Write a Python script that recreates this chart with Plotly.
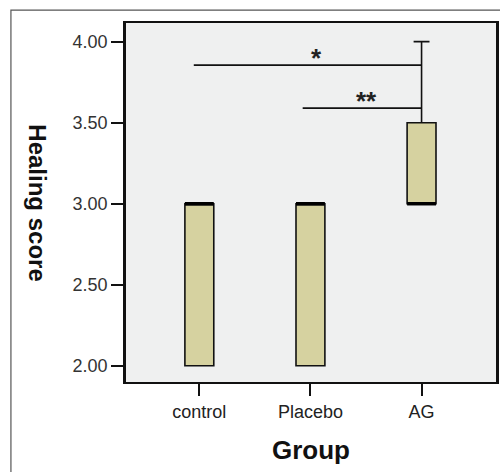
import plotly.graph_objects as go

groups = ["control", "Placebo", "AG"]
q1 = [2.0, 2.0, 3.0]
median = [3.0, 3.0, 3.0]
q3 = [3.0, 3.0, 3.5]
lower = [2.0, 2.0, 3.0]
upper = [3.0, 3.0, 4.0]
yticks = [2.0, 2.5, 3.0, 3.5, 4.0]

sig_lines = [
    {"x0": -0.05, "x1": 2, "y": 3.855, "label": "*", "lx": 1.05, "ly": 3.90},
    {"x0": 0.93, "x1": 2, "y": 3.59, "label": "**", "lx": 1.5, "ly": 3.635},
]

box_w = 0.26
pos = list(range(len(groups)))
FONT = "Liberation Sans"

fig = go.Figure()
for i, g in enumerate(groups):
    fig.add_trace(go.Box(
        x=[pos[i]], q1=[q1[i]], median=[median[i]], q3=[q3[i]],
        lowerfence=[lower[i]], upperfence=[upper[i]],
        width=box_w, whiskerwidth=0.55,
        fillcolor="#d6d2a0", line=dict(color="#111111", width=1.6),
        boxpoints=False, showlegend=False, hoverinfo="skip",
    ))
    fig.add_trace(go.Scatter(
        x=[pos[i] - box_w / 2, pos[i] + box_w / 2], y=[median[i], median[i]],
        mode="lines", line=dict(color="#000000", width=3.5),
        showlegend=False, hoverinfo="skip",
    ))

for s in sig_lines:
    fig.add_trace(go.Scatter(
        x=[s["x0"], s["x1"]], y=[s["y"], s["y"]], mode="lines",
        line=dict(color="#111111", width=1.8), showlegend=False, hoverinfo="skip",
    ))
    fig.add_annotation(x=s["lx"], y=s["ly"], text="<b>" + s["label"] + "</b>",
                       showarrow=False, yanchor="middle",
                       font=dict(size=26, color="#222222", family=FONT))

fig.add_annotation(xref="paper", yref="paper", x=-0.282, y=0.5,
                   text="<b>Healing score</b>", textangle=90, showarrow=False,
                   font=dict(size=24, color="#111111", family=FONT))
fig.add_annotation(xref="paper", yref="paper", x=0.4987, y=-0.19,
                   text="<b>Group</b>", showarrow=False, yanchor="middle",
                   font=dict(size=26, color="#111111", family=FONT))

fig.add_shape(type="rect", xref="paper", yref="paper",
              x0=-0.311, x1=1.2, y0=-0.5, y1=1.036,
              line=dict(color="#555555", width=1.2), layer="below")

fig.update_xaxes(range=[-0.66, 2.67], tickvals=pos, ticktext=groups,
                 showgrid=False, zeroline=False, showline=True, mirror=True,
                 linecolor="#111111", linewidth=2, ticks="outside", ticklen=12,
                 tickwidth=2, tickcolor="#111111",
                 tickfont=dict(size=18, color="#222222", family=FONT))
fig.update_yaxes(range=[1.9, 4.115], tickvals=yticks, tickformat=".2f",
                 showgrid=False, zeroline=False, showline=True, mirror=True,
                 linecolor="#111111", linewidth=2.5, ticks="outside", ticklen=12,
                 tickwidth=2, tickcolor="#111111",
                 tickfont=dict(size=18, color="#333333", family=FONT))

fig.update_layout(width=500, height=472,
                  margin=dict(l=126, r=1, t=23, b=90),
                  paper_bgcolor="#ffffff", plot_bgcolor="#eff0f0",
                  showlegend=False)

fig.write_html("out.html", config={"displayModeBar": False},
               post_script="document.body.style.margin='0px';document.body.style.overflow='hidden';")
